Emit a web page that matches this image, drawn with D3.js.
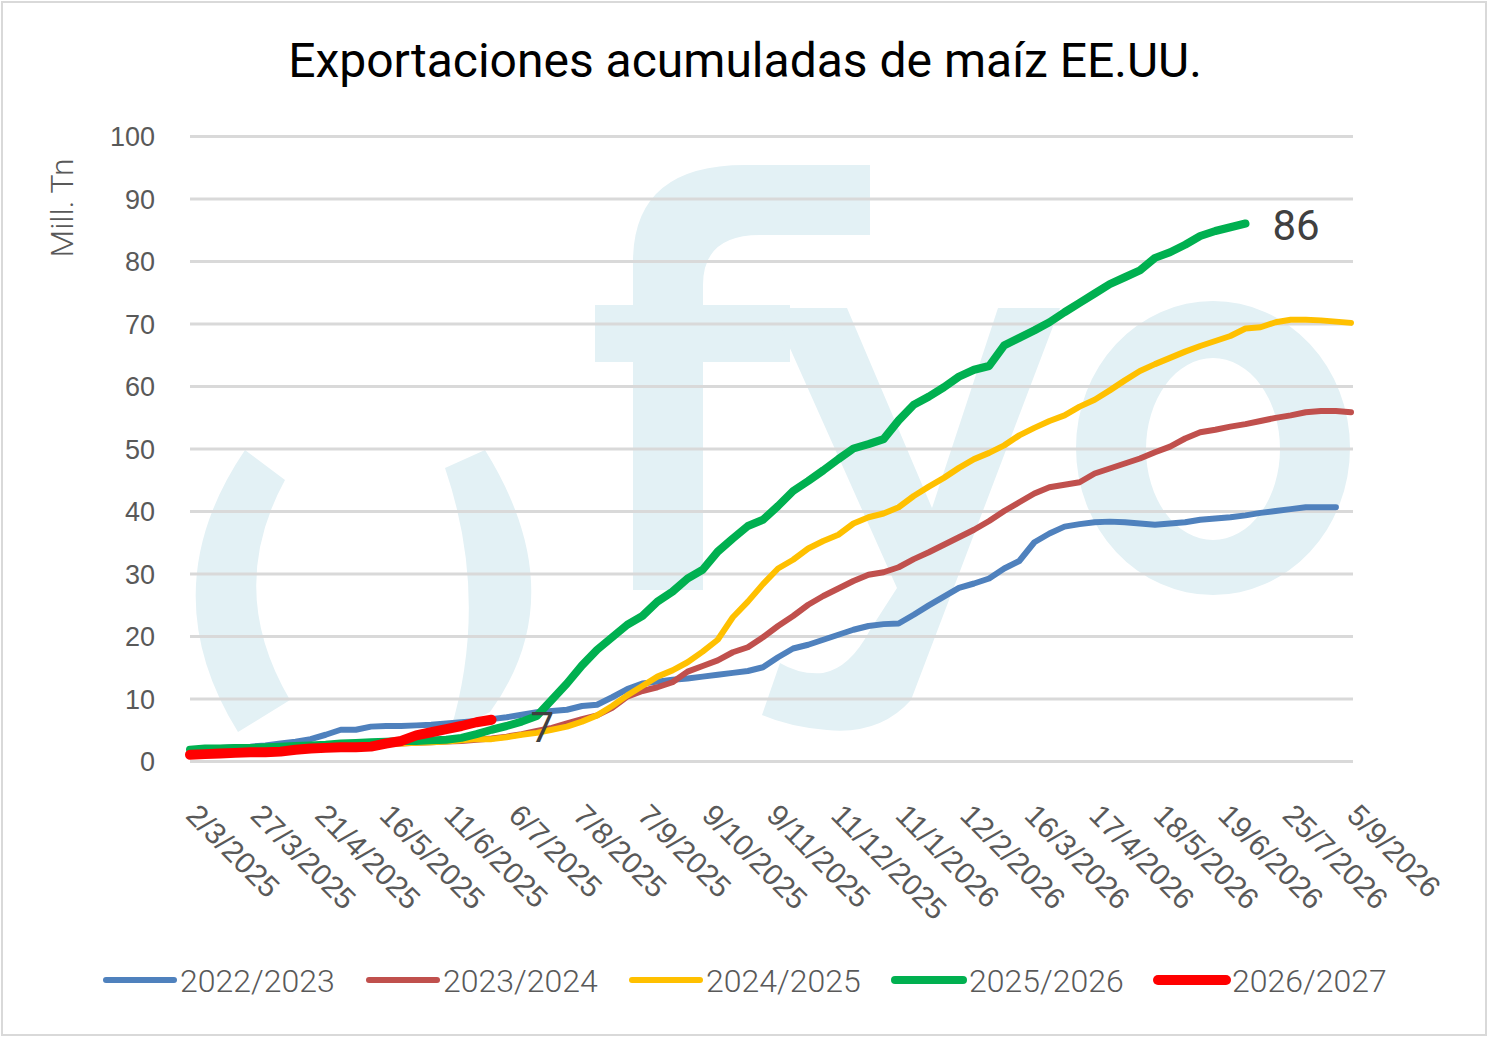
<!DOCTYPE html>
<html>
<head>
<meta charset="utf-8">
<script src="https://cdn.jsdelivr.net/npm/d3@7"></script>
<style>
  body { margin: 0; background: #ffffff; }
  svg { display: block; font-family: Roboto, "Liberation Sans", sans-serif; }
</style>
</head>
<body>
<div id="chart"></div>
<script>
// x-axis labels (one every ~4 weeks)
var dateLabels = ["2/3/2025", "27/3/2025", "21/4/2025", "16/5/2025", "11/6/2025", "6/7/2025",
  "7/8/2025", "7/9/2025", "9/10/2025", "9/11/2025", "11/12/2025", "11/1/2026", "12/2/2026",
  "16/3/2026", "17/4/2026", "18/5/2026", "19/6/2026", "25/7/2026", "5/9/2026"];

var seasons = ["2022/2023", "2023/2024", "2024/2025", "2025/2026", "2026/2027"];

// weekly cumulative exports, Mill. Tn
var exp2022 = [1.8, 2.0, 2.1, 2.2, 2.3, 2.5, 2.8, 3.1, 3.5, 4.2,
  5.0, 5.0, 5.5, 5.6, 5.6, 5.7, 5.8, 6.0, 6.2, 6.4,
  6.7, 7.0, 7.4, 7.8, 8.0, 8.2, 8.8, 9.0, 10.2, 11.5,
  12.4, 12.7, 13.0, 13.2, 13.5, 13.8, 14.1, 14.4, 15.0, 16.6,
  18.0, 18.6, 19.4, 20.2, 21.0, 21.6, 21.9, 22.0, 23.4, 24.9,
  26.3, 27.7, 28.4, 29.2, 30.8, 32.0, 35.0, 36.4, 37.5, 37.9,
  38.2, 38.3, 38.2, 38.0, 37.8, 38.0, 38.2, 38.6, 38.8, 39.0,
  39.3, 39.7, 40.0, 40.3, 40.6, 40.6, 40.6];
var exp2023 = [1.5, 1.6, 1.7, 1.8, 1.9, 2.0, 2.0, 2.1, 2.2, 2.3,
  2.4, 2.5, 2.6, 2.7, 2.8, 2.9, 3.0, 3.1, 3.2, 3.4,
  3.6, 3.9, 4.3, 4.8, 5.3, 6.0, 6.7, 7.3, 8.5, 10.3,
  11.2, 11.8, 12.6, 14.3, 15.2, 16.1, 17.4, 18.2, 19.8, 21.6,
  23.2, 25.0, 26.4, 27.6, 28.8, 29.8, 30.2, 31.0, 32.3, 33.4,
  34.6, 35.8, 37.0, 38.4, 40.0, 41.4, 42.8, 43.8, 44.2, 44.6,
  46.0, 46.8, 47.6, 48.4, 49.4, 50.3, 51.6, 52.6, 53.0, 53.5,
  53.9, 54.4, 54.9, 55.3, 55.8, 56.0, 56.0, 55.8];
var exp2024 = [1.5, 1.6, 1.7, 1.8, 1.9, 2.0, 2.1, 2.2, 2.3, 2.4,
  2.5, 2.5, 2.6, 2.7, 2.8, 2.9, 3.0, 3.1, 3.3, 3.5,
  3.5, 3.8, 4.2, 4.5, 5.0, 5.5, 6.3, 7.3, 8.8, 10.5,
  12.0, 13.5, 14.5, 15.8, 17.5, 19.4, 23.0, 25.5, 28.3, 30.8,
  32.2, 34.0, 35.2, 36.2, 38.0, 39.0, 39.6, 40.6, 42.4, 43.9,
  45.3, 46.9, 48.3, 49.3, 50.5, 52.1, 53.3, 54.4, 55.3, 56.7,
  57.8, 59.3, 60.9, 62.4, 63.5, 64.5, 65.5, 66.4, 67.2, 68.0,
  69.2, 69.4, 70.2, 70.6, 70.6, 70.5, 70.3, 70.1];
var exp2025 = [1.8, 2.0, 2.0, 2.1, 2.1, 2.2, 2.3, 2.4, 2.5, 2.6,
  2.8, 2.9, 3.0, 3.1, 3.2, 3.2, 3.3, 3.4, 3.7, 4.3,
  5.0, 5.6, 6.3, 7.2, 9.8, 12.4, 15.3, 17.8, 19.8, 21.8,
  23.2, 25.5, 27.1, 29.2, 30.6, 33.5, 35.6, 37.6, 38.6, 40.8,
  43.2, 44.8, 46.5, 48.3, 50.0, 50.7, 51.5, 54.5, 57.0, 58.3,
  59.8, 61.5, 62.6, 63.2, 66.5, 67.7, 68.9, 70.2, 71.8, 73.3,
  74.8, 76.3, 77.4, 78.5, 80.5, 81.4, 82.6, 84.0, 84.8, 85.4,
  86.0];
var exp2026 = [1.0, 1.1, 1.2, 1.3, 1.4, 1.4, 1.5, 1.8, 2.0, 2.1,
  2.2, 2.2, 2.3, 2.8, 3.2, 4.1, 4.6, 5.1, 5.6, 6.2, 6.6];

var yTicks = [0, 10, 20, 30, 40, 50, 60, 70, 80, 90, 100];

var colors = ["#4F81BD", "#C0504D", "#FFC000", "#00B050", "#FF0000"];
var widths = [6, 6, 6, 8, 10];

var series = [exp2022, exp2023, exp2024, exp2025, exp2026].map(function(v, i) {
  return {label: seasons[i], values: v, color: colors[i], width: widths[i]};
});

var W = 1488, H = 1037,
    plot = {left: 190, right: 1353, top: 136, bottom: 761};

var svg = d3.select("#chart").append("svg")
    .attr("width", W)
    .attr("height", H);

svg.append("rect")
    .attr("x", 2).attr("y", 2)
    .attr("width", W - 4).attr("height", H - 4)
    .attr("fill", "#ffffff")
    .attr("stroke", "#d9d9d9")
    .attr("stroke-width", 2);

// fyo watermark behind the plot
var wm = svg.append("g").attr("fill", "#e3f1f5");
wm.append("path").attr("d", "M245 450 Q150 590 238 732 L290 700 Q225 590 285 480 Z");
wm.append("path").attr("d", "M445 468 L485 450 Q575 595 490 712 L450 732 Q490 600 445 468 Z");
wm.append("path").attr("d", "M633 590 L633 262 Q633 165 745 165 L870 165 L870 235 L760 235 Q703 235 703 285 L703 590 Z");
wm.append("rect").attr("x", 595).attr("y", 305).attr("width", 195).attr("height", 57);
wm.append("path").attr("d", "M772 308 L847 308 L932 508 L998 308 L1060 308 L911 700 Q880 735 827 730 Q790 727 762 715 L780 663 Q800 675 823 673 Q850 668 870 630 L897 588 Z");
wm.append("path")
    .attr("fill-rule", "evenodd")
    .attr("d", "M1076 448 A137 147 0 1 0 1350 448 A137 147 0 1 0 1076 448 Z " +
               "M1146 449 A67 91 0 1 0 1280 449 A67 91 0 1 0 1146 449 Z");

var nWeeks = d3.max(series, function(s) { return s.values.length; }) - 1;

var x = d3.scaleLinear().domain([0, nWeeks]).range([plot.left, 1351]);
var xLab = d3.scalePoint().domain(dateLabels).range([plot.left, 1351]);
var y = d3.scaleLinear().domain([0, 100]).range([plot.bottom, plot.top]);

// y axis + gridlines
var gy = svg.append("g")
    .attr("transform", "translate(" + plot.left + ",0)")
    .call(d3.axisLeft(y).tickValues(yTicks)
      .tickSizeInner(-(plot.right - plot.left)).tickSizeOuter(0).tickPadding(35));
gy.select(".domain").remove();
gy.selectAll(".tick line").attr("stroke", "#d9d9d9").attr("stroke-width", 3);
gy.selectAll(".tick text")
    .attr("fill", "#595959")
    .attr("font-size", 27)
    .attr("font-weight", 300)
    .attr("dy", "0.36em");

// x axis labels, rotated
var gx = svg.append("g")
    .attr("transform", "translate(0," + plot.bottom + ")")
    .call(d3.axisBottom(xLab).tickSize(0));
gx.select(".domain").remove();
gx.selectAll(".tick text")
    .attr("x", 0).attr("y", 0).attr("dy", null)
    .attr("text-anchor", "start")
    .attr("transform", "translate(-6,56) rotate(45)")
    .attr("fill", "#595959")
    .attr("font-size", 30)
    .attr("font-weight", 300);

// series lines
var line = d3.line()
    .x(function(d, i) { return x(i); })
    .y(function(d) { return y(d); });

svg.append("g").selectAll("path")
    .data(series).enter()
    .append("path")
      .attr("d", function(d) { return line(d.values); })
      .attr("fill", "none")
      .attr("stroke", function(d) { return d.color; })
      .attr("stroke-width", function(d) { return d.width; })
      .attr("stroke-linejoin", "round")
      .attr("stroke-linecap", "round");

// end-value labels for the current seasons
var endLabels = [{s: 3, dx: 27, dy: 16}, {s: 4, dx: 39, dy: 22}];
svg.append("g").selectAll("text")
    .data(endLabels).enter()
    .append("text")
      .attr("x", function(d) { return x(series[d.s].values.length - 1) + d.dx; })
      .attr("y", function(d) { var v = series[d.s].values; return y(v[v.length - 1]) + d.dy; })
      .attr("fill", "#404040")
      .attr("font-size", 42)
      .text(function(d) { var v = series[d.s].values; return Math.round(v[v.length - 1]); });

// title
svg.append("text")
    .attr("x", 745).attr("y", 77)
    .attr("text-anchor", "middle")
    .attr("font-size", 48)
    .attr("fill", "#000000")
    .text("Exportaciones acumuladas de maíz EE.UU.");

// y axis title
svg.append("text")
    .attr("transform", "translate(73,208) rotate(-90)")
    .attr("text-anchor", "middle")
    .attr("font-size", 32)
    .attr("font-weight", 300)
    .attr("fill", "#595959")
    .text("Mill. Tn");

// legend
var leg = svg.append("g").selectAll("g")
    .data(series).enter()
    .append("g")
      .attr("transform", function(d, i) { return "translate(" + (106 + i * 263) + ",980)"; });
leg.append("line")
    .attr("x1", 0).attr("x2", 68)
    .attr("stroke", function(d) { return d.color; })
    .attr("stroke-width", function(d) { return d.width; })
    .attr("stroke-linecap", "round");
leg.append("text")
    .attr("x", 74).attr("y", 12)
    .attr("font-size", 32)
    .attr("font-weight", 300)
    .attr("fill", "#595959")
    .text(function(d) { return d.label; });
</script>
</body>
</html>
